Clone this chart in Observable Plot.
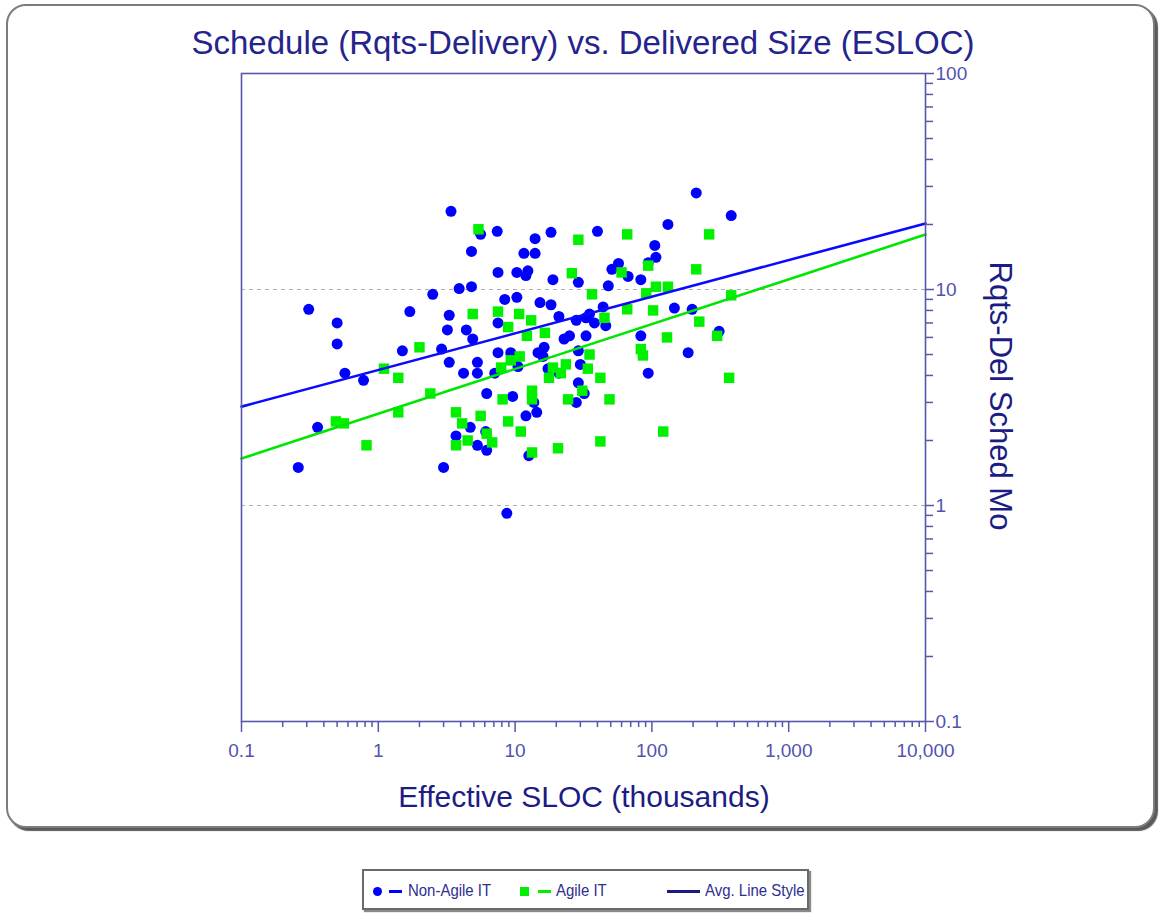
<!DOCTYPE html>
<html>
<head>
<meta charset="utf-8">
<script src="https://cdn.jsdelivr.net/npm/d3@7"></script>
<script src="https://cdn.jsdelivr.net/npm/@observablehq/plot@0.6"></script>
<style>
  html, body { margin: 0; padding: 0; background: #fff; }
  body { width: 1159px; height: 913px; position: relative; overflow: hidden; font-family: "Liberation Sans", Arial, sans-serif; }
  #frame { position: absolute; left: 6px; top: 4px; width: 1149px; height: 824px; box-sizing: border-box;
           border: 2px solid #7c7c7c; border-radius: 20px; box-shadow: 3px 3px 1px #5a5a5a; background: #fff; }
  #chart { position: absolute; left: 0; top: 0; }
  .txt { position: absolute; white-space: nowrap; line-height: 1; }
  #title { left: 583px; top: 26px; transform: translateX(-50%); font-size: 33px; color: #24248c; }
  #xlabel { left: 584px; top: 782px; transform: translateX(-50%); font-size: 30px; color: #1c1c84; }
  #ylabel { left: 1000px; top: 396px; transform: translate(-50%, -50%) rotate(90deg); font-size: 31px; color: #1c1c84; }
  #legend { position: absolute; left: 362px; top: 869px; width: 447px; height: 41px; box-sizing: border-box;
            border: 2px solid #6a6a6a; box-shadow: 2px 2px 1px #8a8a8a; background: #fff; }
  .lg { position: absolute; }
  .lgt { position: absolute; top: 11px; font-size: 17px; color: #2e2e8e; white-space: nowrap; line-height: 1;
         transform: scaleX(0.88); transform-origin: left center; }
</style>
</head>
<body>
<div id="frame"></div>
<div id="chart"></div>
<div class="txt" id="title">Schedule (Rqts-Delivery) vs. Delivered Size (ESLOC)</div>
<div class="txt" id="xlabel">Effective SLOC (thousands)</div>
<div class="txt" id="ylabel">Rqts-Del Sched Mo</div>
<div id="legend">
  <div class="lg" style="left:9px;top:16px;width:9px;height:9px;border-radius:50%;background:#0000ff;"></div>
  <div class="lg" style="left:25px;top:19px;width:13px;height:3px;background:#0000ff;"></div>
  <div class="lgt" style="left:44px;">Non-Agile IT</div>
  <div class="lg" style="left:156px;top:16px;width:9px;height:9px;background:#00ee00;"></div>
  <div class="lg" style="left:174px;top:19px;width:13px;height:3px;background:#00ee00;"></div>
  <div class="lgt" style="left:192px;">Agile IT</div>
  <div class="lg" style="left:303px;top:19px;width:33px;height:3px;background:#1a1a80;"></div>
  <div class="lgt" style="left:341px;">Avg. Line Style</div>
</div>
<script>
// ---- Data (ESLOC in thousands, schedule in months) ----
const nonAgileX = [0.26,0.31,0.36,0.50,0.50,0.57,0.78,1.5,1.7,2.5,2.9,3.0,3.2,3.3,3.3,3.4,3.7,3.9,4.2,4.4,
  4.7,4.8,4.8,4.9,5.3,5.3,5.3,5.6,6.1,6.2,6.2,7.1,7.4,7.5,7.5,7.5,8.4,8.7,9.3,9.6,
  10.3,10.3,10.5,11.6,12,12,12.4,12.6,13.7,14,14,14.4,14.7,15.2,16,16.3,17.4,18.3,18.3,18.9,
  20.9,20.9,22.8,25,28,28,29,29,29,30,32,33,33,35,38,40,44,46,48,51,
  57,67,83,83,94,94,105,107,131,146,184,197,211,310,380];
const nonAgileY = [1.5,8.1,2.3,5.6,7.0,4.1,3.8,5.2,7.9,9.5,5.3,1.5,6.5,7.6,4.6,23,2.1,10.1,4.1,6.5,
  2.3,15,10.3,5.9,4.6,4.1,1.9,18,2.2,3.3,1.8,4.1,18.6,12,7.0,5.1,9.0,0.92,5.1,3.2,
  12,9.2,4.4,14.7,11.6,2.6,12.2,1.7,3.0,17.2,14.7,2.7,5.1,8.7,4.9,5.4,4.3,18.4,8.5,11.1,
  7.5,4.1,5.9,6.1,7.2,3.0,10.8,5.2,3.7,4.5,3.3,7.4,6.1,7.7,7.0,18.6,8.3,6.8,10.4,12.4,
  13.2,11.5,11.1,6.1,13.3,4.1,16,14.1,20,8.2,5.1,8.1,28,6.4,22];

const agileX = [0.49,0.56,0.82,1.1,1.4,1.4,2.0,2.4,3.7,3.7,4.1,4.5,4.9,5.4,5.6,6.2,6.8,7.5,7.9,8.1,
  8.9,8.9,9.3,10.7,10.8,11,12.2,13.1,13.3,13.3,13.3,16.5,17.7,18.9,20.6,21.6,23.5,24.4,26,29,
  31,34,35,36.5,42,42,45,49,60,66,66,83,86,91,94,102,107,121,129,131,
  211,222,262,300,367,380];
const agileY = [2.45,2.4,1.9,4.3,3.9,2.7,5.4,3.3,2.7,1.9,2.4,2.0,7.7,19,2.6,2.15,1.96,7.9,4.35,3.1,
  6.7,2.45,4.7,7.7,4.9,2.2,6.1,7.2,3.4,3.1,1.76,6.3,3.9,4.35,1.84,4.1,4.5,3.1,11.9,17,
  3.4,4.3,5.0,9.5,3.9,1.98,7.4,3.1,12,18,8.1,5.3,4.95,9.6,12.9,8.0,10.3,2.2,6.0,10.3,
  12.4,7.1,18,6.1,3.9,9.4];

// Average fit lines: schedule = a * ESLOC^b
const fitNonAgile = [4.24, 0.1696];
const fitAgile = [2.66, 0.2074];

const xMajorTicks = [0.1, 1, 10, 100, 1000, 10000];
const xTickLabels = ["0.1", "1", "10", "100", "1,000", "10,000"];
const yMajorTicks = [0.1, 1, 10, 100];
const yTickLabels = ["0.1", "1", "10", "100"];
const gridValues = [1, 10];

// ---- Build ----
const nonAgile = nonAgileX.map((x, i) => ({x, y: nonAgileY[i]}));
const agile = agileX.map((x, i) => ({x, y: agileY[i]}));
const xEnds = [xMajorTicks[0], xMajorTicks[xMajorTicks.length - 1]];
const fitLine = ([a, b]) => xEnds.map(x => ({x, y: a * Math.pow(x, b)}));
const minorOf = (majors) => majors.slice(0, -1).flatMap(m => [2,3,4,5,6,7,8,9].map(k => +(m * k).toPrecision(3)));
const xLab = new Map(xMajorTicks.map((d, i) => [d, xTickLabels[i]]));
const yLab = new Map(yMajorTicks.map((d, i) => [d, yTickLabels[i]]));

const axisColor = "#5656ac";
const labelColor = "#5252b0";

const chart = Plot.plot({
  width: 1159,
  height: 830,
  marginLeft: 241,
  marginRight: 234,
  marginTop: 73,
  marginBottom: 109,
  x: {type: "log", domain: xEnds},
  y: {type: "log", domain: [yMajorTicks[0], yMajorTicks[yMajorTicks.length - 1]]},
  style: {background: "transparent", fontFamily: "'Liberation Sans', Arial, sans-serif", fontSize: "19px", overflow: "visible"},
  marks: [
    Plot.gridY(gridValues, {stroke: "#b0b0b0", strokeOpacity: 1, strokeDasharray: "4,4", strokeWidth: 1}),
    Plot.dot(nonAgile, {x: "x", y: "y", r: 5.5, fill: "#0000ff", stroke: "none"}),
    Plot.dot(agile, {x: "x", y: "y", r: 5.9, symbol: "square", fill: "#00f000", stroke: "none"}),
    Plot.line(fitLine(fitNonAgile), {x: "x", y: "y", stroke: "#0a0aff", strokeWidth: 2.6}),
    Plot.line(fitLine(fitAgile), {x: "x", y: "y", stroke: "#00e600", strokeWidth: 2.6}),
    Plot.frame({stroke: axisColor, strokeWidth: 1.6}),
    Plot.axisX(minorOf(xMajorTicks), {tickSize: 6, tickFormat: () => "", stroke: axisColor, strokeWidth: 1.5, label: null}),
    Plot.axisX(xMajorTicks, {tickSize: 11, tickPadding: 11, tickFormat: d => xLab.get(d), stroke: axisColor, strokeWidth: 1.5, fill: labelColor, label: null}),
    Plot.axisY(minorOf(yMajorTicks), {anchor: "right", tickSize: 7, tickFormat: () => "", stroke: axisColor, strokeWidth: 1.5, label: null}),
    Plot.axisY(yMajorTicks, {anchor: "right", tickSize: 8, tickPadding: 2, tickFormat: d => yLab.get(d), stroke: axisColor, strokeWidth: 1.5, fill: labelColor, label: null})
  ]
});
document.getElementById("chart").appendChild(chart);
</script>
</body>
</html>
